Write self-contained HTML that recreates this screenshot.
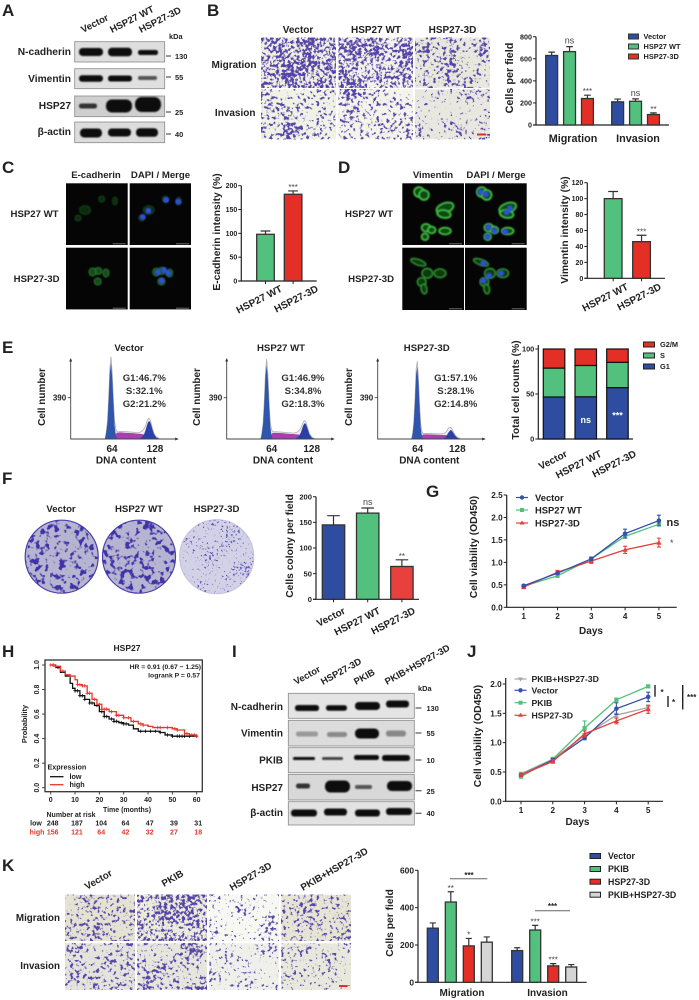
<!DOCTYPE html>
<html lang="en"><head><meta charset="utf-8"><title>HSP27 figure</title>
<style>
html,body{margin:0;padding:0;background:#fff}
#figure{display:block;font-family:"Liberation Sans","DejaVu Sans",sans-serif;filter:blur(.3px)}
#figure text{fill:#222;font-weight:bold}
#figure text.red{fill:#e8352b}
#figure text.lite{font-weight:normal;fill:#444}
</style></head>
<body>
<svg id="figure" xmlns="http://www.w3.org/2000/svg" width="699" height="1000" viewBox="0 0 699 1000">
<defs id="defs"></defs>
<rect width="699" height="1000" fill="#fff"/>

<g font-size="17">
<text x="2" y="16">A</text>
<text x="207" y="16">B</text>
<text x="2" y="173">C</text>
<text x="338" y="173">D</text>
<text x="2" y="353">E</text>
<text x="2" y="484">F</text>
<text x="426" y="497">G</text>
<text x="2" y="657">H</text>
<text x="232" y="657">I</text>
<text x="467" y="657">J</text>
<text x="2" y="871">K</text>
</g>

<g font-size="10.2" text-anchor="end">
<text x="71" y="55">N-cadherin</text>
<text x="71" y="82">Vimentin</text>
<text x="71" y="109">HSP27</text>
<text x="71" y="135">β-actin</text>
</g>
<g font-size="9.6">
<text transform="translate(83 33) rotate(-27)">Vector</text>
<text transform="translate(112 33) rotate(-27)">HSP27 WT</text>
<text transform="translate(141 33) rotate(-27)">HSP27-3D</text>
</g>
<g font-size="7.4">
<text x="169" y="39">kDa</text>
<text x="175" y="59">130</text>
<text x="175" y="80">55</text>
<text x="175" y="115">25</text>
<text x="175" y="137">40</text>
<path d="M166 56h5M166 77h5M166 112h5M166 134h5" stroke="#333" stroke-width="1"/>
</g>

<g font-size="10">
<text x="298" y="33" text-anchor="middle">Vector</text>
<text x="376" y="33" text-anchor="middle">HSP27 WT</text>
<text x="452.5" y="33" text-anchor="middle">HSP27-3D</text>
<text x="256.5" y="68" text-anchor="end">Migration</text>
<text x="255.5" y="116" text-anchor="end">Invasion</text>
</g>
<text transform="translate(513 78) rotate(-90)" text-anchor="middle" font-size="10.8">Cells per field</text>
<text x="573" y="142" text-anchor="middle" font-size="10.8">Migration</text>
<text x="638" y="142" text-anchor="middle" font-size="10.8">Invasion</text>
<g font-size="7.4" stroke="#333" stroke-width="1">
<rect x="628.5" y="34" width="10" height="5" fill="#2f4da0"/>
<rect x="628.5" y="44" width="10" height="5" fill="#52c17d"/>
<rect x="628.5" y="54" width="10" height="5" fill="#e32f26"/>
<text x="643.5" y="39" stroke="none">Vector</text>
<text x="643.5" y="49" stroke="none">HSP27 WT</text>
<text x="643.5" y="59" stroke="none">HSP27-3D</text>
</g>

<g font-size="9.6">
<text x="96" y="178" text-anchor="middle">E-cadherin</text>
<text x="160.5" y="178" text-anchor="middle">DAPI / Merge</text>
<text x="58.5" y="217" text-anchor="end">HSP27 WT</text>
<text x="59.5" y="282" text-anchor="end">HSP27-3D</text>
</g>
<text transform="translate(220 232) rotate(-90)" text-anchor="middle" font-size="10.3">E-cadherin intensity (%)</text>

<g font-size="9.6">
<text x="433" y="178" text-anchor="middle">Vimentin</text>
<text x="496" y="178" text-anchor="middle">DAPI / Merge</text>
<text x="393" y="217" text-anchor="end">HSP27 WT</text>
<text x="394" y="282" text-anchor="end">HSP27-3D</text>
</g>
<text transform="translate(568 230) rotate(-90)" text-anchor="middle" font-size="10.3">Vimentin intensity (%)</text>

<text transform="translate(519 390) rotate(-90)" text-anchor="middle" font-size="10.3">Total cell counts (%)</text>
<g font-size="7.4" stroke="#222" stroke-width="1">
<rect x="643.5" y="342" width="11" height="5" fill="#e32f26"/>
<rect x="643.5" y="353" width="11" height="5" fill="#52c17d"/>
<rect x="643.5" y="364" width="11" height="5" fill="#2f4da0"/>
<text x="660" y="347" stroke="none">G2/M</text>
<text x="660" y="358" stroke="none">S</text>
<text x="660" y="369" stroke="none">G1</text>
</g>

<g font-size="9.6" text-anchor="middle">
<text x="61" y="512">Vector</text>
<text x="139" y="512">HSP27 WT</text>
<text x="216.5" y="512">HSP27-3D</text>
</g>
<text transform="translate(293 546) rotate(-90)" text-anchor="middle" font-size="10.3">Cells colony per field</text>

<text transform="translate(477 547) rotate(-90)" text-anchor="middle" font-size="10.3">Cell viability (OD450)</text>
<text x="591" y="634" text-anchor="middle" font-size="10">Days</text>
<g font-size="9.4">
<g><path d="M516 497.5h12" stroke="#3652a8" stroke-width="1.2"/><circle cx="522" cy="497.5" r="2.2" fill="#3652a8"/><text x="535" y="501">Vector</text></g>
<g><path d="M516 510h12" stroke="#52c17d" stroke-width="1.2"/><rect x="520" y="508" width="4" height="4" fill="#52c17d"/><text x="535" y="513.5">HSP27 WT</text></g>
<g><path d="M516 523h12" stroke="#e83d3a" stroke-width="1.2"/><path d="M522 520.5l2.5 4h-5z" fill="#e83d3a"/><text x="535" y="526.5">HSP27-3D</text></g>
</g>
<text x="666.5" y="526" font-size="11">ns</text>
<text x="670" y="546" font-size="9" class="lite">*</text>

<text x="127" y="651" text-anchor="middle" font-size="8.5">HSP27</text>
<text transform="translate(27 724) rotate(-90)" text-anchor="middle" font-size="7.4">Probability</text>
<text x="127" y="812" text-anchor="middle" font-size="7">Time (months)</text>
<text x="201" y="669" text-anchor="end" font-size="6.8">HR = 0.91 (0.67 − 1.25)</text>
<text x="200" y="677.5" text-anchor="end" font-size="6.8">logrank P = 0.57</text>
<g font-size="7.2">
<text x="47.5" y="769.5">Expression</text>
<path d="M50 776.7h13.5" stroke="#111" stroke-width="1.3"/>
<path d="M50 784.7h13.5" stroke="#e8352b" stroke-width="1.3"/>
<text x="69.5" y="779">low</text>
<text x="69.5" y="787">high</text>
</g>
<text x="71" y="817" text-anchor="middle" font-size="7">Number at risk</text>
<text x="36" y="825.5" text-anchor="middle" font-size="7">low</text>
<text x="37" y="834.5" text-anchor="middle" font-size="7" class="red">high</text>

<g font-size="10" text-anchor="end">
<text x="283" y="710">N-cadherin</text>
<text x="283" y="736.5">Vimentin</text>
<text x="283" y="763.5">PKIB</text>
<text x="283" y="791">HSP27</text>
<text x="283" y="816">β-actin</text>
</g>
<g font-size="9.4">
<text transform="translate(296 685) rotate(-29)">Vector</text>
<text transform="translate(323 685) rotate(-29)">HSP27-3D</text>
<text transform="translate(356 685) rotate(-29)">PKIB</text>
<text transform="translate(387 685) rotate(-29)">PKIB+HSP27-3D</text>
</g>
<g font-size="7.4">
<text x="418" y="691">kDa</text>
<text x="426.5" y="711">130</text>
<text x="426.5" y="736">55</text>
<text x="426.5" y="763">10</text>
<text x="426.5" y="794">25</text>
<text x="426.5" y="816">40</text>
<path d="M415.5 708h6M415.5 733h6M415.5 760h6M415.5 790.7h6M415.5 813.3h6" stroke="#333" stroke-width="1"/>
</g>

<text transform="translate(481 736) rotate(-90)" text-anchor="middle" font-size="10.3">Cell viability (OD450)</text>
<text x="577.5" y="825" text-anchor="middle" font-size="10">Days</text>
<g font-size="8.7">
<g><path d="M514.5 679h12" stroke="#a5a5a5" stroke-width="1.2"/><path d="M520.5 681.5l2.5-4h-5z" fill="#a5a5a5"/><text x="531.5" y="682.2">PKIB+HSP27-3D</text></g>
<g><path d="M514.5 690.3h12" stroke="#3652a8" stroke-width="1.2"/><circle cx="520.5" cy="690.3" r="2.2" fill="#3652a8"/><text x="531.5" y="693.5">Vector</text></g>
<g><path d="M514.5 702.7h12" stroke="#52c17d" stroke-width="1.2"/><rect x="518.5" y="700.7" width="4" height="4" fill="#52c17d"/><text x="531.5" y="706">PKIB</text></g>
<g><path d="M514.5 715.3h12" stroke="#e83d3a" stroke-width="1.2"/><path d="M520.5 712.8l2.5 4h-5z" fill="#e83d3a"/><text x="531.5" y="718.5">HSP27-3D</text></g>
</g>
<g stroke="#222" stroke-width="1.4">
<path d="M655 685v11.7"/>
<path d="M668 696v11"/>
<path d="M682.7 685v24.5"/>
<text x="660.5" y="695" font-size="8" stroke="none">*</text>
<text x="672" y="705" font-size="8" stroke="none">*</text>
<text x="687" y="700" font-size="8" stroke="none">***</text>
</g>

<g font-size="9.8">
<text transform="translate(87 890) rotate(-30)">Vector</text>
<text transform="translate(164 887) rotate(-30)">PKIB</text>
<text transform="translate(232 891) rotate(-30)">HSP27-3D</text>
<text transform="translate(303 891) rotate(-30)">PKIB+HSP27-3D</text>
<text x="60" y="921" text-anchor="end">Migration</text>
<text x="60" y="969" text-anchor="end">Invasion</text>
</g>
<text transform="translate(393 923) rotate(-90)" text-anchor="middle" font-size="10.3">Cells per field</text>
<text x="462" y="996" text-anchor="middle" font-size="10">Migration</text>
<text x="547.5" y="996" text-anchor="middle" font-size="10">Invasion</text>
<path d="M450 878.7H487.3" stroke="#666" stroke-width="1"/>
<path d="M535 910.7H570" stroke="#666" stroke-width="1"/>
<text x="469" y="878" text-anchor="middle" font-size="8">***</text>
<text x="552.5" y="909" text-anchor="middle" font-size="8">***</text>
<g font-size="8.8" stroke="#222" stroke-width="1">
<rect x="590" y="853.5" width="10.5" height="5" fill="#2f4da0"/>
<rect x="590" y="866.5" width="10.5" height="5" fill="#52c17d"/>
<rect x="590" y="879.2" width="10.5" height="5" fill="#e32f26"/>
<rect x="590" y="892.2" width="10.5" height="5" fill="#d5d5d5"/>
<text x="608" y="859" stroke="none">Vector</text>
<text x="608" y="872" stroke="none">PKIB</text>
<text x="608" y="885" stroke="none">HSP27-3D</text>
<text x="608" y="898" stroke="none">PKIB+HSP27-3D</text>
</g>
</svg>

<script>
/* ---------- chart data ---------- */
const bValues=[630,665,240,210,215,95];
const bErrors=[30,45,30,25,22,15];
const bMarks=['','ns','***','','ns','**'];
const bTicks=[0,200,400,600,800];

const cCategories=['HSP27 WT','HSP27-3D'];
const cValues=[98,182];
const cErrors=[7,7];
const cMarks=['','***'];
const cTicks=[0,50,100,150,200];

const dCategories=['HSP27 WT','HSP27-3D'];
const dValues=[100,46];
const dErrors=[9,8];
const dMarks=['','***'];
const dTicks=[0,20,40,60,80,100,120];

const eCategories=['Vector','HSP27 WT','HSP27-3D'];
const eG1=[46.7,46.9,57.1];
const eS=[32.1,34.8,28.1];
const eG2=[21.2,18.3,14.8];
const eMarks=['','ns','***'];
const eTicks=[0,50,100];

const histChannels=[54,56,58,60,62,64,66,68,70,72,74,80,90,100,110,114,118,120,122,124,126,128,130,132,134,136,140,146];
const vectorG1=[0,60,150,360,620,720,580,340,130,40,0,0,0,0,0,0,0,0,0,0,0,0,0,0,0,0,0,0];
const vectorS=[0,0,0,0,0,0,0,10,25,45,60,62,58,55,50,48,45,40,30,22,14,8,4,0,0,0,0,0];
const vectorG2=[0,0,0,0,0,0,0,0,0,0,0,0,0,0,0,10,30,50,80,120,155,170,160,125,85,50,15,0];
const wtG1=[0,55,145,340,600,700,560,320,120,35,0,0,0,0,0,0,0,0,0,0,0,0,0,0,0,0,0,0];
const wtS=[0,0,0,0,0,0,0,10,25,45,58,58,55,50,46,44,42,36,28,20,12,7,3,0,0,0,0,0];
const wtG2=[0,0,0,0,0,0,0,0,0,0,0,0,0,0,0,8,26,44,70,105,135,150,140,110,75,42,12,0];
const d3G1=[0,50,150,350,610,680,540,300,110,30,0,0,0,0,0,0,0,0,0,0,0,0,0,0,0,0,0,0];
const d3S=[0,0,0,0,0,0,0,8,20,34,42,44,42,40,38,36,30,24,14,8,4,0,0,0,0,0,0,0];
const d3G2=[0,0,0,0,0,0,0,0,0,0,0,0,0,0,4,20,58,72,85,80,65,48,32,20,12,6,0,0];

const fCategories=['Vector','HSP27 WT','HSP27-3D'];
const fValues=[145,168,64];
const fErrors=[18,10,13];
const fMarks=['','ns','**'];
const fTicks=[0,50,100,150,200];

const days=[1,2,3,4,5];
const gVector=[0.48,0.76,1.08,1.64,1.93];
const gVectorErr=[0.03,0.03,0.04,0.10,0.12];
const gWT=[0.47,0.70,1.08,1.58,1.85];
const gWTErr=[0.02,0.03,0.03,0.03,0.03];
const g3D=[0.45,0.78,1.03,1.28,1.44];
const g3DErr=[0.03,0.04,0.05,0.08,0.10];
const gTicks=[0,0.5,1,1.5,2,2.5];

const kmMonths=[0,10,20,30,40,50,60];
const kmProbTicks=[0,0.2,0.4,0.6,0.8,1];
const kmLowT=[0,2,4,6,8,9,10,12,14,16,18,20,22,24,26,28,30,32,34,36,38,40,45,47,50,55,57,60];
const kmLowP=[1,.98,.94,.91,.85,.81,.79,.75,.72,.69,.67,.62,.58,.56,.54,.53,.52,.51,.48,.46,.46,.46,.45,.43,.42,.42,.42,.41];
const kmHighT=[0,2,4,6,8,10,11,13,15,17,19,21,24,27,30,33,36,38,40,42,47,50,52,55,57,60];
const kmHighP=[1,.99,.95,.92,.91,.88,.84,.83,.77,.72,.68,.64,.62,.59,.57,.54,.52,.51,.50,.49,.49,.48,.47,.44,.43,.42];
const kmLowCensor=[1,3,10,11,12,13,14,16,17,19,21,22,23,25,26,27,29,30,31,37,39,41,43,45,48,50,52,53,54,55,57];
const kmHighCensor=[0,1,2,5,8,11,12,13,14,15,16,18,20,21,22,23,25,27,28,30,32,34,37,38,44,45,48,51,52,56,58,59,60];
const riskLow=[248,187,104,64,47,39,31];
const riskHigh=[156,121,64,42,32,27,18];

const jPKIBplus=[0.47,0.72,1.12,1.47,1.60];
const jPKIBplusErr=[0.02,0.02,0.03,0.03,0.03];
const jVector=[0.45,0.70,1.08,1.58,1.78];
const jVectorErr=[0.02,0.03,0.03,0.10,0.08];
const jPKIB=[0.42,0.72,1.25,1.73,1.96];
const jPKIBErr=[0.02,0.03,0.12,0.03,0.02];
const j3D=[0.45,0.68,1.15,1.37,1.57];
const j3DErr=[0.02,0.03,0.05,0.05,0.07];
const jTicks=[0,0.5,1,1.5,2];

const kValues=[290,430,195,215,170,280,88,82];
const kErrors=[28,55,40,28,15,25,12,13];
const kMarks=['','**','*','','','***','***',''];
const kTicks=[0,200,400,600];

/* ---------- helpers ---------- */
const NS='http://www.w3.org/2000/svg';
const root=document.getElementById('figure');
const BLUE='#2f4da0',GREEN='#52c17d',RED='#e32f26',GREY='#d5d5d5';
function el(parent,tag,attrs,txt){
  const e=document.createElementNS(NS,tag);
  for(const k in attrs)e.setAttribute(k,attrs[k]);
  if(txt!==undefined)e.textContent=txt;
  parent.appendChild(e);
  return e;
}
function makeFilter(id,hi,lo,rgb,r0,seed){
  const s=10;
  return '<filter id="'+id+'" x="0" y="0" width="100%" height="100%" color-interpolation-filters="sRGB">'+
  '<feTurbulence type="fractalNoise" baseFrequency="'+hi+'" numOctaves="2" seed="'+seed+'" result="a"/>'+
  '<feColorMatrix in="a" type="matrix" values="1 0 0 0 0 0 1 0 0 0 0 0 1 0 0 0 0 0 0 1" result="h"/>'+
  '<feTurbulence type="fractalNoise" baseFrequency="'+lo+'" numOctaves="1" seed="'+(seed+5)+'" result="b"/>'+
  '<feColorMatrix in="b" type="matrix" values="1 0 0 0 0 0 1 0 0 0 0 0 1 0 0 0 0 0 0 1" result="l"/>'+
  '<feComposite in="h" in2="l" operator="arithmetic" k1="0" k2=".75" k3=".35" k4="-.05" result="m"/>'+
  '<feColorMatrix in="m" type="matrix" values="0 0 0 0 '+rgb[0]+' 0 0 0 0 '+rgb[1]+' 0 0 0 0 '+rgb[2]+' '+s+' 0 0 0 '+(-s*r0)+'"/>'+
  '</filter>';
}
const cellCol=[.33,.27,.66],plateCol=[.25,.2,.66];
document.getElementById('defs').innerHTML=
  makeFilter('cells-dense',.34,.05,cellCol,.47,4)+
  makeFilter('cells-med',.3,.05,cellCol,.54,8)+
  makeFilter('cells-sparse',.32,.05,cellCol,.585,13)+
  makeFilter('colony-big',.2,.09,plateCol,.53,3)+
  makeFilter('colony-dots',.42,.05,[.36,.32,.72],.6,21)+
  '<filter id="soft" x="-20%" y="-60%" width="140%" height="220%"><feGaussianBlur stdDeviation="0.9"/></filter>'+
  '<filter id="glow" x="-40%" y="-40%" width="180%" height="180%"><feGaussianBlur stdDeviation="0.7"/></filter>'+
  '<clipPath id="plate-1"><circle cx="61.7" cy="556.7" r="36.5"/></clipPath>'+
  '<clipPath id="plate-2"><circle cx="139" cy="556.7" r="36.5"/></clipPath>'+
  '<clipPath id="plate-3"><circle cx="216.7" cy="556.7" r="37"/></clipPath>';

/* ---------- bar chart ---------- */
function drawBars(c){
  const g=el(root,'g',{});
  
  
  const yS=v=>c.y0-v/c.yMax*(c.y0-c.yTop);
  const xS=i=>c.left+i*c.pitch+Math.floor(i/c.groupSize)*c.groupGap;
  const yAxis=el(g,'line',{x1:c.x0,x2:c.x0,y1:c.y0,y2:yS(c.yMax),stroke:'#222','stroke-width':1.2});
  
  
  const xAxis=el(g,'line',{x1:c.x0-3,x2:c.xEnd,y1:c.y0,y2:c.y0,stroke:'#222','stroke-width':1.2});
  
  
  c.ticks.forEach(t=>{
    const tk=el(g,'line',{x1:c.x0-3,x2:c.x0,y1:yS(t),y2:yS(t),stroke:'#222','stroke-width':1});
    
    
    const lb=el(g,'text',{x:c.x0-4,y:yS(t)+c.tickSize*.36,'text-anchor':'end','font-size':c.tickSize},String(t));
    
    
  });
  c.values.forEach((v,i)=>{
    const cx=xS(i)+c.width/2;
    const err=el(g,'path',{d:'M'+cx+' '+yS(v)+'V'+yS(v+c.errors[i])+'M'+(cx-c.width*.28)+' '+yS(v+c.errors[i])+'H'+(cx+c.width*.28),stroke:'#333','stroke-width':1.2,fill:'none'});
    
    
    const b=el(g,'rect',{x:xS(i),y:yS(v),width:c.width,height:c.y0-yS(v),fill:c.colors[i],stroke:'#333','stroke-width':1.3});
    
    
    if(c.marks[i]){
      const m=el(g,'text',{x:cx,y:yS(v+c.errors[i])-(c.marks[i]==='ns'?3:1),'text-anchor':'middle','font-size':c.marks[i]==='ns'?9:8,'class':'lite'},c.marks[i]);
      
      
    }
    if(c.categories){
      const tk=el(g,'line',{x1:cx,x2:cx,y1:c.y0,y2:c.y0+3,stroke:'#222','stroke-width':1});
      
      
      const lx=c.labelX+i*c.labelPitch;
      const lb=el(g,'text',{transform:'translate('+lx+' '+c.labelY+') rotate(-27)','text-anchor':'end','font-size':c.labelSize},c.categories[i]);
      
      
    }
  });
}
const triple=[BLUE,GREEN,RED];
drawBars({name:'b-chart',x0:536,xEnd:669,y0:125,yTop:36.7,yMax:800,ticks:bTicks,tickSize:7.2,left:545.7,width:11.9,pitch:17.9,groupSize:3,groupGap:12.3,values:bValues,errors:bErrors,marks:bMarks,colors:[...triple,...triple]});
drawBars({name:'c-chart',x0:241.3,xEnd:316.7,y0:281,yTop:185.7,yMax:200,ticks:cTicks,tickSize:7,left:256.7,width:17.6,pitch:27.6,groupSize:9,groupGap:0,values:cValues,errors:cErrors,marks:cMarks,colors:[GREEN,RED],categories:cCategories,labelX:283,labelPitch:36,labelY:291,labelSize:10});
drawBars({name:'d-chart',x0:587.3,xEnd:665,y0:278.3,yTop:182.7,yMax:120,ticks:dTicks,tickSize:7,left:604.3,width:17.7,pitch:28.4,groupSize:9,groupGap:0,values:dValues,errors:dErrors,marks:dMarks,colors:[GREEN,RED],categories:dCategories,labelX:629,labelPitch:33,labelY:289,labelSize:10});
drawBars({name:'f-chart',x0:316,xEnd:419,y0:599.3,yTop:496.7,yMax:200,ticks:fTicks,tickSize:7.6,left:322.3,width:22.4,pitch:34.2,groupSize:9,groupGap:0,values:fValues,errors:fErrors,marks:fMarks,colors:[BLUE,GREEN,'#e8403c'],categories:fCategories,labelX:346,labelPitch:35,labelY:613,labelSize:10});
drawBars({name:'k-chart',x0:418,xEnd:586.7,y0:982.3,yTop:870.3,yMax:600,ticks:kTicks,tickSize:8.4,left:427.3,width:11,pitch:18,groupSize:4,groupGap:12.4,values:kValues,errors:kErrors,marks:kMarks,colors:[BLUE,GREEN,RED,GREY,BLUE,GREEN,RED,GREY]});

/* ---------- stacked chart ---------- */
(function(){
  const g=el(root,'g',{});
  
  
  const y0=439,y100=349,x0=538.3;
  const yS=v=>y0-v/100*(y0-y100);
  const xS=i=>543.3+i*31.7;
  const w=21.5;
  const ax=el(g,'path',{d:'M'+x0+' 345V'+y0+'H633',stroke:'#222','stroke-width':1.2,fill:'none'});
  
  
  eTicks.forEach(t=>{
    const tk=el(g,'line',{x1:x0-3,x2:x0,y1:yS(t),y2:yS(t),stroke:'#222','stroke-width':1});
    
    
    const lb=el(g,'text',{x:x0-4,y:yS(t)+2.7,'text-anchor':'end','font-size':7.4},String(t));
    
    
  });
  eCategories.forEach((cat,i)=>{
    let base=0;
    [[eG1,BLUE,'g1'],[eS,GREEN,'s'],[eG2,RED,'g2m']].forEach(s=>{
      const v=s[0][i];
      const r=el(g,'rect',{x:xS(i),y:yS(base+v),width:w,height:yS(base)-yS(base+v),fill:s[1],stroke:'#111','stroke-width':1.2});
      
      
      base+=v;
    });
    if(eMarks[i]){
      const m=el(g,'text',{x:xS(i)+w/2,y:yS(eG1[i]/2)+5,'text-anchor':'middle','font-size':9,style:'fill:#fff'},eMarks[i]);
      
      
    }
    const lb=el(g,'text',{transform:'translate('+(568+i*34.5)+' 456) rotate(-27)','text-anchor':'end','font-size':10},cat);
    
    
  });
})();

/* ---------- DNA histograms ---------- */
function drawHist(c){
  const g=el(root,'g',{});
  
  
  const yBase=439;
  const xS=ch=>c.x0+ch*c.scale;
  const yS=v=>yBase-v*0.106;
  const poly=(arr,fill,nm,extra)=>{
    let d='M'+xS(histChannels[0])+' '+yBase;
    arr.forEach((v,i)=>{d+='L'+xS(histChannels[i])+' '+yS(v);});
    d+='L'+xS(histChannels[histChannels.length-1])+' '+yBase+'Z';
    const p=el(g,'path',Object.assign({d:d,fill:fill},extra||{}));
    
    
  };
  const total=c.g1.map((v,i)=>(v+c.s[i]+c.g2[i])*1.07+(v+c.s[i]+c.g2[i]>0?6:0));
  poly(total,'#ececec',c.name+'-outline',{stroke:'#a8a8a8','stroke-width':.7});
  poly(c.s,'#a83fb0',c.name+'-s-phase');
  poly(c.g2,'#2b3fa8',c.name+'-g2-peak');
  poly(c.g1,'#2f55ad',c.name+'-g1-peak');
  const ax=el(g,'path',{d:'M'+c.axX+' 360V'+yBase+'H'+(c.axX+106),stroke:'#444','stroke-width':.9,fill:'none'});
  
  
  const ar=el(g,'path',{d:'M'+c.axX+' 358l1.5 3.5h-3zM'+(c.axX+108)+' '+yBase+'l-3.5 1.5v-3z',fill:'#333'});
  
  
  const tk=el(g,'line',{x1:c.axX-3,x2:c.axX,y1:yS(390),y2:yS(390),stroke:'#444','stroke-width':.9});
  
  
  const tl=el(g,'text',{x:c.axX-4.5,y:yS(390)+3,'text-anchor':'end','font-size':8},'390');
  
  
  const yt=el(g,'text',{transform:'translate('+c.titleX+' 397) rotate(-90)','text-anchor':'middle','font-size':10},'Cell number');
  
  
  const ti=el(g,'text',{x:c.titleC,y:351,'text-anchor':'middle','font-size':9.6},c.title);
  
  
  c.stats.forEach((s,i)=>{
    const st=el(g,'text',{x:c.statC,y:381+i*12.9,'text-anchor':'middle','font-size':9.6,style:'fill:#333'},s);
    
    
  });
  const l1=el(g,'text',{x:c.l64,y:452,'text-anchor':'middle','font-size':10},'64');
  
  
  const l2=el(g,'text',{x:c.l128,y:452,'text-anchor':'middle','font-size':10},'128');
  
  
  const xt=el(g,'text',{x:c.dna,y:463.5,'text-anchor':'middle','font-size':10},'DNA content');
  
  
}
drawHist({name:'e-hist-vector',title:'Vector',x0:73,scale:.594,axX:70.7,g1:vectorG1,s:vectorS,g2:vectorG2,titleX:45,titleC:129,statC:144.3,stats:['G1:46.7%','S:32.1%','G2:21.2%'],l64:112,l128:155,dna:126});
drawHist({name:'e-hist-wt',title:'HSP27 WT',x0:228.7,scale:.594,axX:226.7,g1:wtG1,s:wtS,g2:wtG2,titleX:200,titleC:281,statC:303,stats:['G1:46.9%','S:34.8%','G2:18.3%'],l64:271.7,l128:311.7,dna:283});
drawHist({name:'e-hist-3d',title:'HSP27-3D',x0:380.6,scale:.573,axX:377.7,g1:d3G1,s:d3S,g2:d3G2,titleX:352,titleC:426.7,statC:455.7,stats:['G1:57.1%','S:28.1%','G2:14.8%'],l64:417.7,l128:457.3,dna:429.3});

/* ---------- line charts ---------- */
function drawLines(c){
  const g=el(root,'g',{});
  
  
  const xS=d=>c.x1+(d-1)*c.step;
  const yS=v=>c.y0-v/c.yMax*(c.y0-c.yTop);
  const ax=el(g,'path',{d:'M'+c.x0+' '+(yS(c.yMax)-c.over)+'V'+c.y0+'H'+c.xEnd,stroke:'#222','stroke-width':1.2,fill:'none'});
  
  
  c.ticks.forEach(t=>{
    const tk=el(g,'line',{x1:c.x0-3,x2:c.x0,y1:yS(t),y2:yS(t),stroke:'#222','stroke-width':1});
    
    
    const lb=el(g,'text',{x:c.x0-4,y:yS(t)+3,'text-anchor':'end','font-size':8.2},t.toFixed(1));
    
    
  });
  days.forEach(d=>{
    const tk=el(g,'line',{x1:xS(d),x2:xS(d),y1:c.y0,y2:c.y0+3,stroke:'#222','stroke-width':1});
    
    
    const lb=el(g,'text',{x:xS(d),y:c.y0+11.5,'text-anchor':'middle','font-size':8.2},String(d));
    
    
  });
  c.series.forEach(s=>{
    const pts=s.values.map((v,i)=>xS(days[i])+','+yS(v)).join(' ');
    const ln=el(g,'polyline',{points:pts,fill:'none',stroke:s.color,'stroke-width':1.3});
    
    
    s.values.forEach((v,i)=>{
      const x=xS(days[i]);
      const up=yS(v+s.errors[i]),dn=yS(v-s.errors[i]);
      const e=el(g,'path',{d:'M'+x+' '+dn+'V'+up+'M'+(x-2)+' '+up+'H'+(x+2)+'M'+(x-2)+' '+dn+'H'+(x+2),stroke:s.color,'stroke-width':1.1,fill:'none'});
      
      
      const y=yS(v);
      let m;
      if(s.shape==='circle')m=el(g,'circle',{cx:x,cy:y,r:2.3,fill:s.color});
      else if(s.shape==='square')m=el(g,'rect',{x:x-2.1,y:y-2.1,width:4.2,height:4.2,fill:s.color});
      else if(s.shape==='tri')m=el(g,'path',{d:'M'+x+' '+(y-2.5)+'l2.6 4.5h-5.2z',fill:s.color});
      else m=el(g,'path',{d:'M'+x+' '+(y+2.5)+'l2.6 -4.5h-5.2z',fill:s.color});
      
      
    });
  });
}
drawLines({name:'g-chart',x0:506.7,xEnd:676.7,y0:607.3,yTop:495,yMax:2.5,over:0,x1:523.7,step:33.8,ticks:gTicks,series:[
  {key:'hsp27-wt',values:gWT,errors:gWTErr,color:'#52c17d',shape:'square'},
  {key:'hsp27-3d',values:g3D,errors:g3DErr,color:'#e83d3a',shape:'tri'},
  {key:'vector',values:gVector,errors:gVectorErr,color:'#3652a8',shape:'circle'}]});
drawLines({name:'j-chart',x0:505.7,xEnd:663,y0:801.3,yTop:684,yMax:2,over:6,x1:521,step:31.8,ticks:jTicks,series:[
  {key:'pkib-hsp27-3d',values:jPKIBplus,errors:jPKIBplusErr,color:'#a5a5a5',shape:'invtri'},
  {key:'pkib',values:jPKIB,errors:jPKIBErr,color:'#52c17d',shape:'square'},
  {key:'vector',values:jVector,errors:jVectorErr,color:'#3652a8',shape:'circle'},
  {key:'hsp27-3d',values:j3D,errors:j3DErr,color:'#e83d3a',shape:'tri'}]});

/* ---------- Kaplan-Meier ---------- */
(function(){
  const g=el(root,'g',{});
  
  
  const xS=t=>50.7+t*2.433;
  const yS=p=>787.7-p*122.7;
  const box=el(g,'rect',{x:45,y:660,width:157.3,height:131.7,fill:'none',stroke:'#333','stroke-width':1.3});
  
  
  kmMonths.forEach(t=>{
    const tk=el(g,'line',{x1:xS(t),x2:xS(t),y1:791.7,y2:794.5,stroke:'#333','stroke-width':.9});
    
    
    const lb=el(g,'text',{x:xS(t),y:802,'text-anchor':'middle','font-size':7},String(t));
    
    
  });
  kmProbTicks.forEach(p=>{
    const tk=el(g,'line',{x1:42,x2:45,y1:yS(p),y2:yS(p),stroke:'#333','stroke-width':.9});
    
    
    const lb=el(g,'text',{transform:'translate(39 '+yS(p)+') rotate(-90)','text-anchor':'middle','font-size':7},p.toFixed(1));
    
    
  });
  const curve=(T,P,C,color,key)=>{
    let d='M'+xS(T[0])+' '+yS(P[0]);
    T.forEach((t,i)=>{if(i)d+='H'+xS(t)+'V'+yS(P[i]);});
    const ln=el(g,'path',{d:d,fill:'none',stroke:color,'stroke-width':1.3});
    
    
    let cd='';
    C.forEach(t=>{
      let p=P[0];
      T.forEach((tt,i)=>{if(tt<=t)p=P[i];});
      cd+='M'+(xS(t)-1.8)+' '+yS(p)+'h3.6M'+xS(t)+' '+(yS(p)-1.8)+'v3.6';
    });
    const cm=el(g,'path',{d:cd,fill:'none',stroke:color,'stroke-width':.8});
    
    
  };
  curve(kmLowT,kmLowP,kmLowCensor,'#111','low');
  curve(kmHighT,kmHighP,kmHighCensor,'#e8352b','high');
  const riskX=i=>52.7+i*24.25;
  riskLow.forEach((v,i)=>{
    const t=el(g,'text',{x:riskX(i),y:825.5,'text-anchor':'middle','font-size':7},String(v));
    
    
  });
  riskHigh.forEach((v,i)=>{
    const t=el(g,'text',{x:riskX(i),y:834.5,'text-anchor':'middle','font-size':7,'class':'red'},String(v));
    
    
  });
})();

/* ---------- western blots ---------- */
const blotA=[
 {n:'n-cadherin',y:41.7,h:20.3,bg:'#dedede',b:[[79,24,8,52],[108,24,8.5,52],[138,20,5,52.5]]},
 {n:'vimentin',y:68.7,h:20,bg:'#e0e0e0',b:[[79,24,6.5,78.5],[108,24,6,78.5],[138,19,4,78,'#555']]},
 {n:'hsp27',y:96,h:20.7,bg:'#cfcfcf',b:[[79,18,5,106,'#333'],[106,26,13,106],[135,26,15,104.5]]},
 {n:'beta-actin',y:122,h:20.7,bg:'#dcdcdc',b:[[80,22,9,133],[108,23,8,132.5],[136,22,8.5,132.5]]}];
const blotI=[
 {n:'n-cadherin',y:693.3,h:25,bg:'#e4e4e4',b:[[295,24,6,708],[326,21,5.5,708],[355,25,8,706],[386,23,7,704]]},
 {n:'vimentin',y:720.3,h:25.7,bg:'#dcdcdc',b:[[296,22,5,734,'#999'],[327,20,5,734.5,'#8a8a8a'],[355,24,10,733.5],[386,20,6,733.5,'#888']]},
 {n:'pkib',y:747.7,h:25,bg:'#e2e2e2',b:[[293,22,3,758.5],[322,21,3,758.5,'#444'],[354,25,5,757.5],[382,28,6,758]]},
 {n:'hsp27',y:774.3,h:25.7,bg:'#d8d8d8',b:[[296,14,5,786,'#333'],[325,25,12,786.5],[355,17,4,787,'#555'],[387,25,10,786]]},
 {n:'beta-actin',y:801.7,h:23.3,bg:'#e2e2e2',b:[[291,26,7,813],[324,23,7,812],[355,25,7,813],[386,26,7,811.5]]}];
function drawBlot(rows,x,w,prefix){
  const g=el(root,'g',{});
  
  
  rows.forEach(r=>{
    const bg=el(g,'rect',{x:x,y:r.y,width:w,height:r.h,fill:r.bg,stroke:'#8a8a8a','stroke-width':.8});
    
    
    r.b.forEach((b,i)=>{
      const band=el(g,'rect',{x:b[0],y:b[3]-b[2]/2,width:b[1],height:b[2],rx:b[2]/2.2,fill:b[4]||'#0c0c0c',filter:'url(#soft)'});
      
      
    });
  });
}
drawBlot(blotA,74.7,90,'blot-a');
drawBlot(blotI,288.3,126,'blot-i');

/* ---------- transwell images ---------- */
const wells=[
 ['b-migration-vector',261,37.7,75,50,'cells-dense','#f1efe2'],
 ['b-migration-wt',338.5,37.7,74.3,50,'cells-dense','#f3f1ea'],
 ['b-migration-3d',415,37.7,75,50,'cells-med','#e8e8dc'],
 ['b-invasion-vector',261,89.3,75,50,'cells-med','#f1f2e6'],
 ['b-invasion-wt',338.5,89.3,74.3,50,'cells-med','#f5f4ea'],
 ['b-invasion-3d',415,89.3,75,50,'cells-sparse','#e8e8e0'],
 ['k-migration-vector',65,894.7,70,46.3,'cells-med','#e4e2d2'],
 ['k-migration-pkib',137,894.7,70,46.3,'cells-dense','#ecebdc'],
 ['k-migration-3d',209.3,894.7,69.7,46.3,'cells-sparse','#f8f8f2'],
 ['k-migration-combo',281.3,894.7,69.7,46.3,'cells-med','#e6e4d4'],
 ['k-invasion-vector',65,943.3,70,46.7,'cells-med','#e4e4dc'],
 ['k-invasion-pkib',137,943.3,70,46.7,'cells-med','#e6e6dc'],
 ['k-invasion-3d',209.3,943.3,69.7,46.7,'cells-sparse','#f0f0ea'],
 ['k-invasion-combo',281.3,943.3,69.7,46.7,'cells-sparse','#e8e8dc']];
wells.forEach(w=>{
  const g=el(root,'g',{});
  
  
  el(g,'rect',{x:w[1],y:w[2],width:w[3],height:w[4],fill:w[6]});
  el(g,'rect',{x:w[1],y:w[2],width:w[3],height:w[4],filter:'url(#'+w[5]+')'});
});
const sb1=el(root,'rect',{x:477,y:133.5,width:9,height:2,fill:'#e32f26'});


const sb2=el(root,'rect',{x:339,y:985,width:8.7,height:2,fill:'#e32f26'});



/* ---------- fluorescence images ---------- */
function fluor(name,x,y,w,h,cells,nuclei,style){
  const g=el(root,'g',{});
  
  
  el(g,'rect',{x:x,y:y,width:w,height:h,fill:'#050505'});
  cells.forEach(c=>{
    el(g,'ellipse',{cx:c[0],cy:c[1],rx:c[2],ry:c[3],transform:'rotate('+(c[4]||0)+' '+c[0]+' '+c[1]+')',fill:style.fill,stroke:style.stroke,'stroke-width':style.sw,filter:'url(#glow)'});
  });
  (nuclei||[]).forEach(n=>{
    el(g,'ellipse',{cx:n[0],cy:n[1],rx:3,ry:3,fill:'#2f4fd8',filter:'url(#glow)'});
  });
  el(g,'rect',{x:x+w-15,y:y+h-1.7,width:13,height:1,fill:'#6a6a6a'});
}
const dim={fill:'#0b2a10',stroke:'#1c5a24',sw:.6};
const dim2={fill:'#124a1a',stroke:'#2c8a36',sw:.8};
const bright={fill:'#0e4a12',stroke:'#44c944',sw:1.5};
const mild={fill:'#0c3a10',stroke:'#36a63a',sw:1.1};
const cTop=[[85,210,5.5,4.5],[78,218,3,3],[101.7,199,3,3],[115,201,2.5,4]];
const cBot=[[98,271,4,3.5],[92.5,272,3.5,4],[106,273,3,4],[97.7,281.5,3.5,3.5]];
const shift=(a,d)=>a.map(c=>[c[0]+d,c[1],c[2],c[3],c[4]||0]);
fluor('c-wt-ecadherin-image',66,183.3,61.7,61.7,cTop,null,dim);
fluor('c-wt-merge-image',129.7,183.3,61.3,61.7,shift(cTop,63.7),[[148.3,210.7],[142.7,217],[166,200],[178.3,201.7]],dim);
fluor('c-3d-ecadherin-image',66,247.7,61.7,61.7,cBot,null,dim2);
fluor('c-3d-merge-image',129.7,247.7,61.3,61.7,shift(cBot,63.7),[[157.7,272.3],[164,270],[168.3,273.3],[161.7,280.7]],dim2);
const dTop=[[419,192,5,5],[424,195,5,5],[445,208,9,5,-20],[444,214,7,4,10],[426,227.7,4.5,4],[431.7,230,4,3.5],[425,236.7,3.5,3.5],[445,231,6,3.5]];
const dBot=[[418.3,262.3,8,3,20],[427.3,273.3,5.5,5],[440,273.3,6,4.5],[421.7,282,4.5,4.5],[424,289,3,5,-10]];
fluor('d-wt-vimentin-image',402.3,183.3,61.7,61.7,dTop,null,bright);
fluor('d-wt-merge-image',465,183.3,61.7,61.7,shift(dTop,62.7),[[480,191.7],[485.7,194.3],[510,208.3],[506.7,212.3],[488.3,227.3],[494.3,230.7],[487.3,236.7],[505,231.7]],bright);
fluor('d-3d-vimentin-image',402.3,247.7,61.7,62.3,dBot,null,mild);
fluor('d-3d-merge-image',465,247.7,61.7,62.3,shift(dBot,62.7),[[483.3,263.3],[489,275.7],[501,273.3],[483.3,280.7]],mild);

/* ---------- colony plates ---------- */
[['f-plate-vector-image',61.7,36.5,'plate-1','#b6b4d0','colony-big'],
 ['f-plate-wt-image',139,36.5,'plate-2','#b6b4d0','colony-big'],
 ['f-plate-3d-image',216.7,37,'plate-3','#d2d1e6','colony-dots']].forEach(p=>{
  const g=el(root,'g',{});
  
  
  el(g,'circle',{cx:p[1],cy:556.7,r:p[2],fill:p[4],stroke:p[5]==='colony-big'?'#4a40b0':'#c8c6e0','stroke-width':1.2});
  const c=el(g,'g',{'clip-path':'url(#'+p[3]+')'});
  el(c,'rect',{x:p[1]-p[2],y:556.7-p[2],width:2*p[2],height:2*p[2],filter:'url(#'+p[5]+')'});
});
</script>
</body></html>
